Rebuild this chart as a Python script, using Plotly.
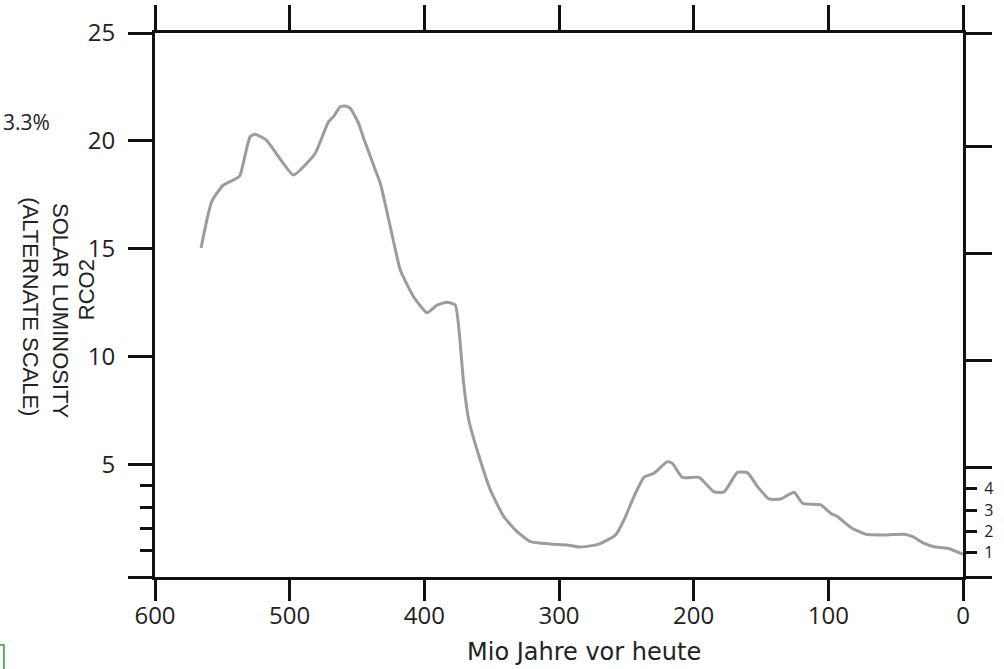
import plotly.graph_objects as go

# --- data ---
age_myr = [565.8, 557.9, 549.2, 539.3, 536.8, 529.4, 525.7, 517.5, 497.2, 488.5,
           481.0, 471.1, 467.4, 462.5, 458.7, 455.0, 448.8, 445.1, 436.4, 432.7,
           425.3, 421.0, 417.8, 408.0, 398.0, 390.6, 383.1, 377.0, 374.5, 370.8,
           367.0, 360.8, 350.9, 341.0, 331.1, 321.2, 306.3, 293.9, 285.0, 271.0,
           258.0, 251.8, 244.4, 236.9, 229.5, 219.6, 215.8, 208.4, 196.0, 184.9,
           177.4, 167.5, 160.1, 152.6, 144.0, 135.3, 125.4, 119.2, 105.6, 98.1,
           93.2, 83.3, 72.1, 61.0, 43.6, 37.4, 28.8, 21.4, 11.4, 0.2]
rco2 = [15.03, 17.18, 17.95, 18.26, 18.40, 20.19, 20.30, 20.04, 18.41, 18.88,
        19.42, 20.89, 21.12, 21.58, 21.61, 21.50, 20.81, 20.12, 18.65, 18.03,
        16.02, 14.80, 14.00, 12.77, 12.03, 12.38, 12.51, 12.38, 11.38, 8.75,
        7.05, 5.66, 3.80, 2.57, 1.87, 1.41, 1.30, 1.25, 1.16, 1.28,
        1.72, 2.41, 3.49, 4.39, 4.58, 5.12, 5.04, 4.39, 4.39, 3.72,
        3.72, 4.62, 4.61, 3.96, 3.39, 3.39, 3.70, 3.19, 3.11, 2.72,
        2.57, 2.07, 1.75, 1.72, 1.75, 1.64, 1.33, 1.17, 1.10, 0.83]

x_ticks = [600, 500, 400, 300, 200, 100, 0]
x_ticktext = ["600", "500", "400", "300", "200", "100", "0"]
y_major = [5, 10, 15, 20, 25]
y_minor = [1, 2, 3, 4]
right_labels = ["1", "2", "3", "4"]

X_RANGE = [600, 0]
Y_RANGE = [-0.23, 25]
Y2_RANGE = [-0.13, 25.3]

LINE = "#111111"
TXT = "#222222"
TICKFONT = dict(family="Open Sans", size=24, color=TXT)

fig = go.Figure()
fig.add_trace(go.Scatter(
    x=age_myr, y=rco2, mode="lines",
    line=dict(color="#9a9ca1", width=3, shape="spline", smoothing=0.5),
    xaxis="x", yaxis="y", showlegend=False, hoverinfo="skip"))
# helper traces so the overlay axes get drawn
fig.add_trace(go.Scatter(x=[None], y=[None], xaxis="x2", yaxis="y2",
                         showlegend=False, hoverinfo="skip"))
fig.add_trace(go.Scatter(x=[None], y=[None], xaxis="x", yaxis="y3",
                         showlegend=False, hoverinfo="skip"))

fig.update_layout(
    width=1004, height=669,
    margin=dict(l=155, r=41, t=33, b=92, autoexpand=False),
    paper_bgcolor="white", plot_bgcolor="white",
    showlegend=False,
    xaxis=dict(range=X_RANGE, anchor="y", side="bottom",
               showline=True, linewidth=3, linecolor=LINE,
               ticks="outside", ticklen=21, tickwidth=3, tickcolor=LINE,
               tickvals=x_ticks, ticktext=x_ticktext, tickfont=TICKFONT,
               ticklabelstandoff=-6,
               showgrid=False, zeroline=False, automargin=False),
    xaxis2=dict(range=X_RANGE, overlaying="x", anchor="y2", side="top",
                showline=True, linewidth=3, linecolor=LINE,
                ticks="outside", ticklen=25, tickwidth=3, tickcolor=LINE,
                tickvals=x_ticks, showticklabels=False,
                showgrid=False, zeroline=False, automargin=False),
    yaxis=dict(range=Y_RANGE, anchor="x", side="left",
               showline=True, linewidth=3, linecolor=LINE,
               ticks="outside", ticklen=24, tickwidth=3, tickcolor=LINE,
               tickvals=[Y_RANGE[0]] + y_major,
               ticktext=[""] + [str(v) for v in y_major],
               tickfont=TICKFONT, ticklabelstandoff=8,
               minor=dict(tickvals=y_minor, ticks="outside", ticklen=12,
                          tickwidth=3, tickcolor=LINE, showgrid=False),
               showgrid=False, zeroline=False, automargin=False),
    yaxis2=dict(range=Y2_RANGE, overlaying="y", anchor="x", side="right",
                showline=True, linewidth=3, linecolor=LINE,
                ticks="outside", ticklen=26, tickwidth=3, tickcolor=LINE,
                tickvals=[Y2_RANGE[0]] + [5, 10, 15, 20] + [Y2_RANGE[1]],
                showticklabels=False,
                showgrid=False, zeroline=False, automargin=False),
    yaxis3=dict(range=Y2_RANGE, overlaying="y", anchor="x", side="right",
                showline=False,
                ticks="outside", ticklen=13, tickwidth=3, tickcolor=LINE,
                tickvals=y_minor, ticktext=right_labels,
                tickfont=dict(family="Open Sans", size=16, color=TXT),
                ticklabelstandoff=4,
                showgrid=False, zeroline=False, automargin=False),
)

annotations = [
    dict(text="Mio Jahre vor heute", x=0.531, y=-0.1673, xref="paper", yref="paper",
         xanchor="center", yanchor="bottom", showarrow=False,
         font=dict(family="DejaVu Sans", size=24, color=TXT)),
    dict(text="3.3%", x=-0.1275, y=0.836, xref="paper", yref="paper",
         xanchor="right", yanchor="middle", showarrow=False,
         font=dict(family="Open Sans", size=21, color=TXT)),
    dict(text="SOLAR LUMINOSITY", x=-0.1176, y=0.489, xref="paper", yref="paper",
         xanchor="center", yanchor="middle", showarrow=False, textangle=90,
         font=dict(family="Liberation Sans", size=22, color=TXT)),
    dict(text="(ALTERNATE SCALE)", x=-0.1535, y=0.496, xref="paper", yref="paper",
         xanchor="center", yanchor="middle", showarrow=False, textangle=90,
         font=dict(family="Liberation Sans", size=22, color=TXT)),
    dict(text="RCO2", x=-0.0854, y=0.529, xref="paper", yref="paper",
         xanchor="center", yanchor="middle", showarrow=False, textangle=-90,
         font=dict(family="Liberation Sans", size=22, color=TXT)),
]
fig.update_layout(annotations=annotations)

fig.add_shape(type="rect", xref="paper", yref="paper",
              x0=-0.22, x1=-0.187, y0=-0.23, y1=-0.125,
              line=dict(color="#2e9e2e", width=1.5), fillcolor="rgba(0,0,0,0)")

fig.write_html("out.html",
               config={"displayModeBar": False},
               post_script="document.body.style.margin='0';"
                           "document.body.style.overflow='hidden';")
